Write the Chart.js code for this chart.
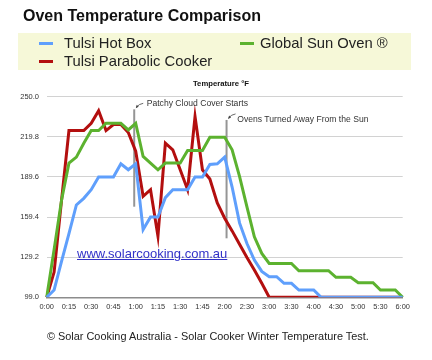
<!DOCTYPE html>
<html>
<head>
<meta charset="utf-8">
<script src="https://cdn.jsdelivr.net/npm/chart.js@4.4.0/dist/chart.umd.min.js"></script>
<style>
  body { margin:0; width:432px; height:360px; background:#fff; position:relative; overflow:hidden;
         font-family:"Liberation Sans", Arial, Helvetica, sans-serif; color:#222; }
  #chart { position:absolute; left:0; top:0; }
  .abs { position:absolute; white-space:nowrap; line-height:1; }
  #title { left:23px; top:8px; font-weight:bold; font-size:16px; color:#111; }
  #legend { position:absolute; left:18px; top:33px; width:393px; height:37px; background:#f6f8d8; }
  .item { position:absolute; font-size:14.8px; line-height:1; white-space:nowrap; }
  .sw { position:absolute; width:14px; height:3px; }
  #ytitle { left:193px; top:80px; font-weight:bold; font-size:7.7px; color:#111; }
  .note { font-size:8.6px; color:#333; }
  #link { left:77px; top:247px; font-size:13px; color:#3232c8; text-decoration:underline; }
  #footer { left:47px; top:330.5px; font-size:10.9px; color:#222; }
</style>
</head>
<body>
<canvas id="chart" width="432" height="360"></canvas>
<div id="title" class="abs">Oven Temperature Comparison</div>
<div id="legend"></div>
<div id="ytitle" class="abs">Temperature °F</div>
<div class="abs note" style="left:146.7px; top:98.7px;">Patchy Cloud Cover Starts</div>
<div class="abs note" style="left:237.3px; top:115.4px;">Ovens Turned Away From the Sun</div>
<div id="link" class="abs">www.solarcooking.com.au</div>
<div id="footer" class="abs">© Solar Cooking Australia - Solar Cooker Winter Temperature Test.</div>
<script>
// readings every 5 min up to 2:00, then every 10 min
const times = [
  '0:00','0:05','0:10','0:15','0:20','0:25','0:30','0:35','0:40','0:45','0:50','0:55',
  '1:00','1:05','1:10','1:15','1:20','1:25','1:30','1:35','1:40','1:45','1:50','1:55',
  '2:00','2:10','2:20','2:30','2:40','2:50','3:00','3:10','3:20','3:30','3:40','3:50',
  '4:00','4:10','4:20','4:30','4:40','4:50','5:00','5:10','5:20','5:30','5:40','5:50','6:00'
];
const tickLabels = ['0:00','0:15','0:30','0:45','1:00','1:15','1:30','1:45','2:00',
  '2:30','3:00','3:30','4:00','4:30','5:00','5:30','6:00'];
const yTicks = [99.0, 129.2, 159.4, 189.6, 219.8, 250.0];

const hotBox = [
  99, 104.5, 126, 147, 168.5, 173.5, 180, 189.5, 189.5, 189.5, 199.5, 195,
  199.5, 150, 159.5, 159.5, 174, 180, 180, 180, 189.5, 189.5, 199, 199.5,
  204.5, 182, 155, 139.5, 127, 118.5, 114.5, 114.5, 109.5, 109.5, 104.5, 104.5,
  104.5, 99, 99, 99, 99, 99, 99, 99, 99, 99, 99, 99, 99
];
const parabolic = [
  99, 118, 172, 224.5, 224.5, 224.5, 230, 239.5, 224.5, 229, 229, 223,
  209, 175, 180, 145, 215, 210, 195, 180, 235, 195, 188, 170,
  158.5, 149, 139, 129, 119.5, 109.5, 99, 99, 99, 99, 99, 99,
  99, 99, 99, 99, 99, 99, 99, 99, 99, 99, 99, 99, 99
];
const globalSun = [
  99, 135, 172, 200, 204.5, 215, 224.5, 224.5, 230, 230, 230, 225,
  230, 205, 200, 195, 200, 200, 200, 209.5, 209.5, 209.5, 219.5, 219.5,
  219.5, 210, 190, 167, 144.5, 132, 124.5, 124.5, 124.5, 124.5, 119, 119,
  119, 119, 119, 114, 114, 114, 110, 110, 110, 104.5, 104.5, 104.5, 99
];

const seriesNames = ['Tulsi Hot Box', 'Tulsi Parabolic Cooker', 'Global Sun Oven ®'];
const seriesColors = ['#5f9ffc', '#b30f0f', '#5cb22f'];
const seriesData = [hotBox, parabolic, globalSun];
const seriesOrder = [0, 2, 1];

// annotation markers: position on the time axis (index), top and bottom in °F
const notes = [
  { at: 11.8, top: 240.5, bottom: 167.2 },
  { at: 24.25, top: 232.5, bottom: 143.4 }
];

// legend
const legend = document.getElementById('legend');
seriesNames.forEach((name, i) => {
  const col = Math.floor(i / 2), row = i % 2;
  const sw = document.createElement('div');
  sw.className = 'sw';
  sw.style.background = seriesColors[i];
  sw.style.left = (21.3 + col * 200.7) + 'px';
  sw.style.top = (8.8 + row * 18) + 'px';
  legend.appendChild(sw);
  const it = document.createElement('div');
  it.className = 'item';
  it.textContent = name;
  it.style.left = (46 + col * 196) + 'px';
  it.style.top = (2.8 + row * 17.7) + 'px';
  legend.appendChild(it);
});

const notesPlugin = {
  id: 'notes',
  beforeDatasetsDraw(chart) {
    const { ctx, scales: { x, y } } = chart;
    notes.forEach(n => {
      const px = x.getPixelForValue(n.at);
      const top = y.getPixelForValue(n.top);
      const bot = y.getPixelForValue(n.bottom);
      ctx.save();
      ctx.strokeStyle = '#959595';
      ctx.lineWidth = 2;
      ctx.beginPath();
      ctx.moveTo(px, top);
      ctx.lineTo(px, bot);
      ctx.stroke();
      // small hooked arrow from label to line top
      ctx.strokeStyle = '#444';
      ctx.lineWidth = 0.8;
      ctx.beginPath();
      ctx.moveTo(px + 9, top - 6);
      ctx.quadraticCurveTo(px + 5, top - 5.5, px + 2, top - 2);
      ctx.stroke();
      ctx.fillStyle = '#444';
      ctx.beginPath();
      ctx.moveTo(px + 1.5, top - 1);
      ctx.lineTo(px + 4.5, top - 2.5);
      ctx.lineTo(px + 2.5, top - 4.5);
      ctx.closePath();
      ctx.fill();
      ctx.restore();
    });
  }
};

new Chart(document.getElementById('chart').getContext('2d'), {
  type: 'line',
  data: {
    labels: times,
    datasets: seriesNames.map((name, i) => ({
      label: name,
      data: seriesData[i],
      borderColor: seriesColors[i],
      backgroundColor: seriesColors[i],
      borderWidth: 3,
      pointRadius: 0,
      tension: 0,
      fill: false,
      order: seriesOrder[i]
    }))
  },
  options: {
    responsive: false,
    animation: false,
    events: [],
    layout: { padding: { left: 0, right: 29.3, top: 96.7, bottom: 42.7 } },
    plugins: { legend: { display: false }, tooltip: { enabled: false }, title: { display: false } },
    scales: {
      x: {
        type: 'category',
        grid: { display: false, drawTicks: false },
        border: { display: true, color: '#8c8c8c', width: 1.5 },
        ticks: {
          autoSkip: false, maxRotation: 0, minRotation: 0, padding: 5,
          color: '#333', font: { size: 7.4, family: '"Liberation Sans", Arial, sans-serif' },
          callback: (v, i) => tickLabels.includes(times[i]) ? times[i] : null
        },
        afterFit(s) { s.height = 20; }
      },
      y: {
        min: 99, max: 250,
        grid: { color: '#d2d2d2', lineWidth: 1, drawTicks: false },
        border: { display: false },
        ticks: {
          padding: 7.7, color: '#333',
          font: { size: 7.5, family: '"Liberation Sans", Arial, sans-serif' },
          callback: v => Number(v).toFixed(1)
        },
        afterBuildTicks(s) { s.ticks = yTicks.map(v => ({ value: v })); },
        afterFit(s) { s.width = 46.7; }
      }
    }
  },
  plugins: [notesPlugin]
});
</script>
</body>
</html>
